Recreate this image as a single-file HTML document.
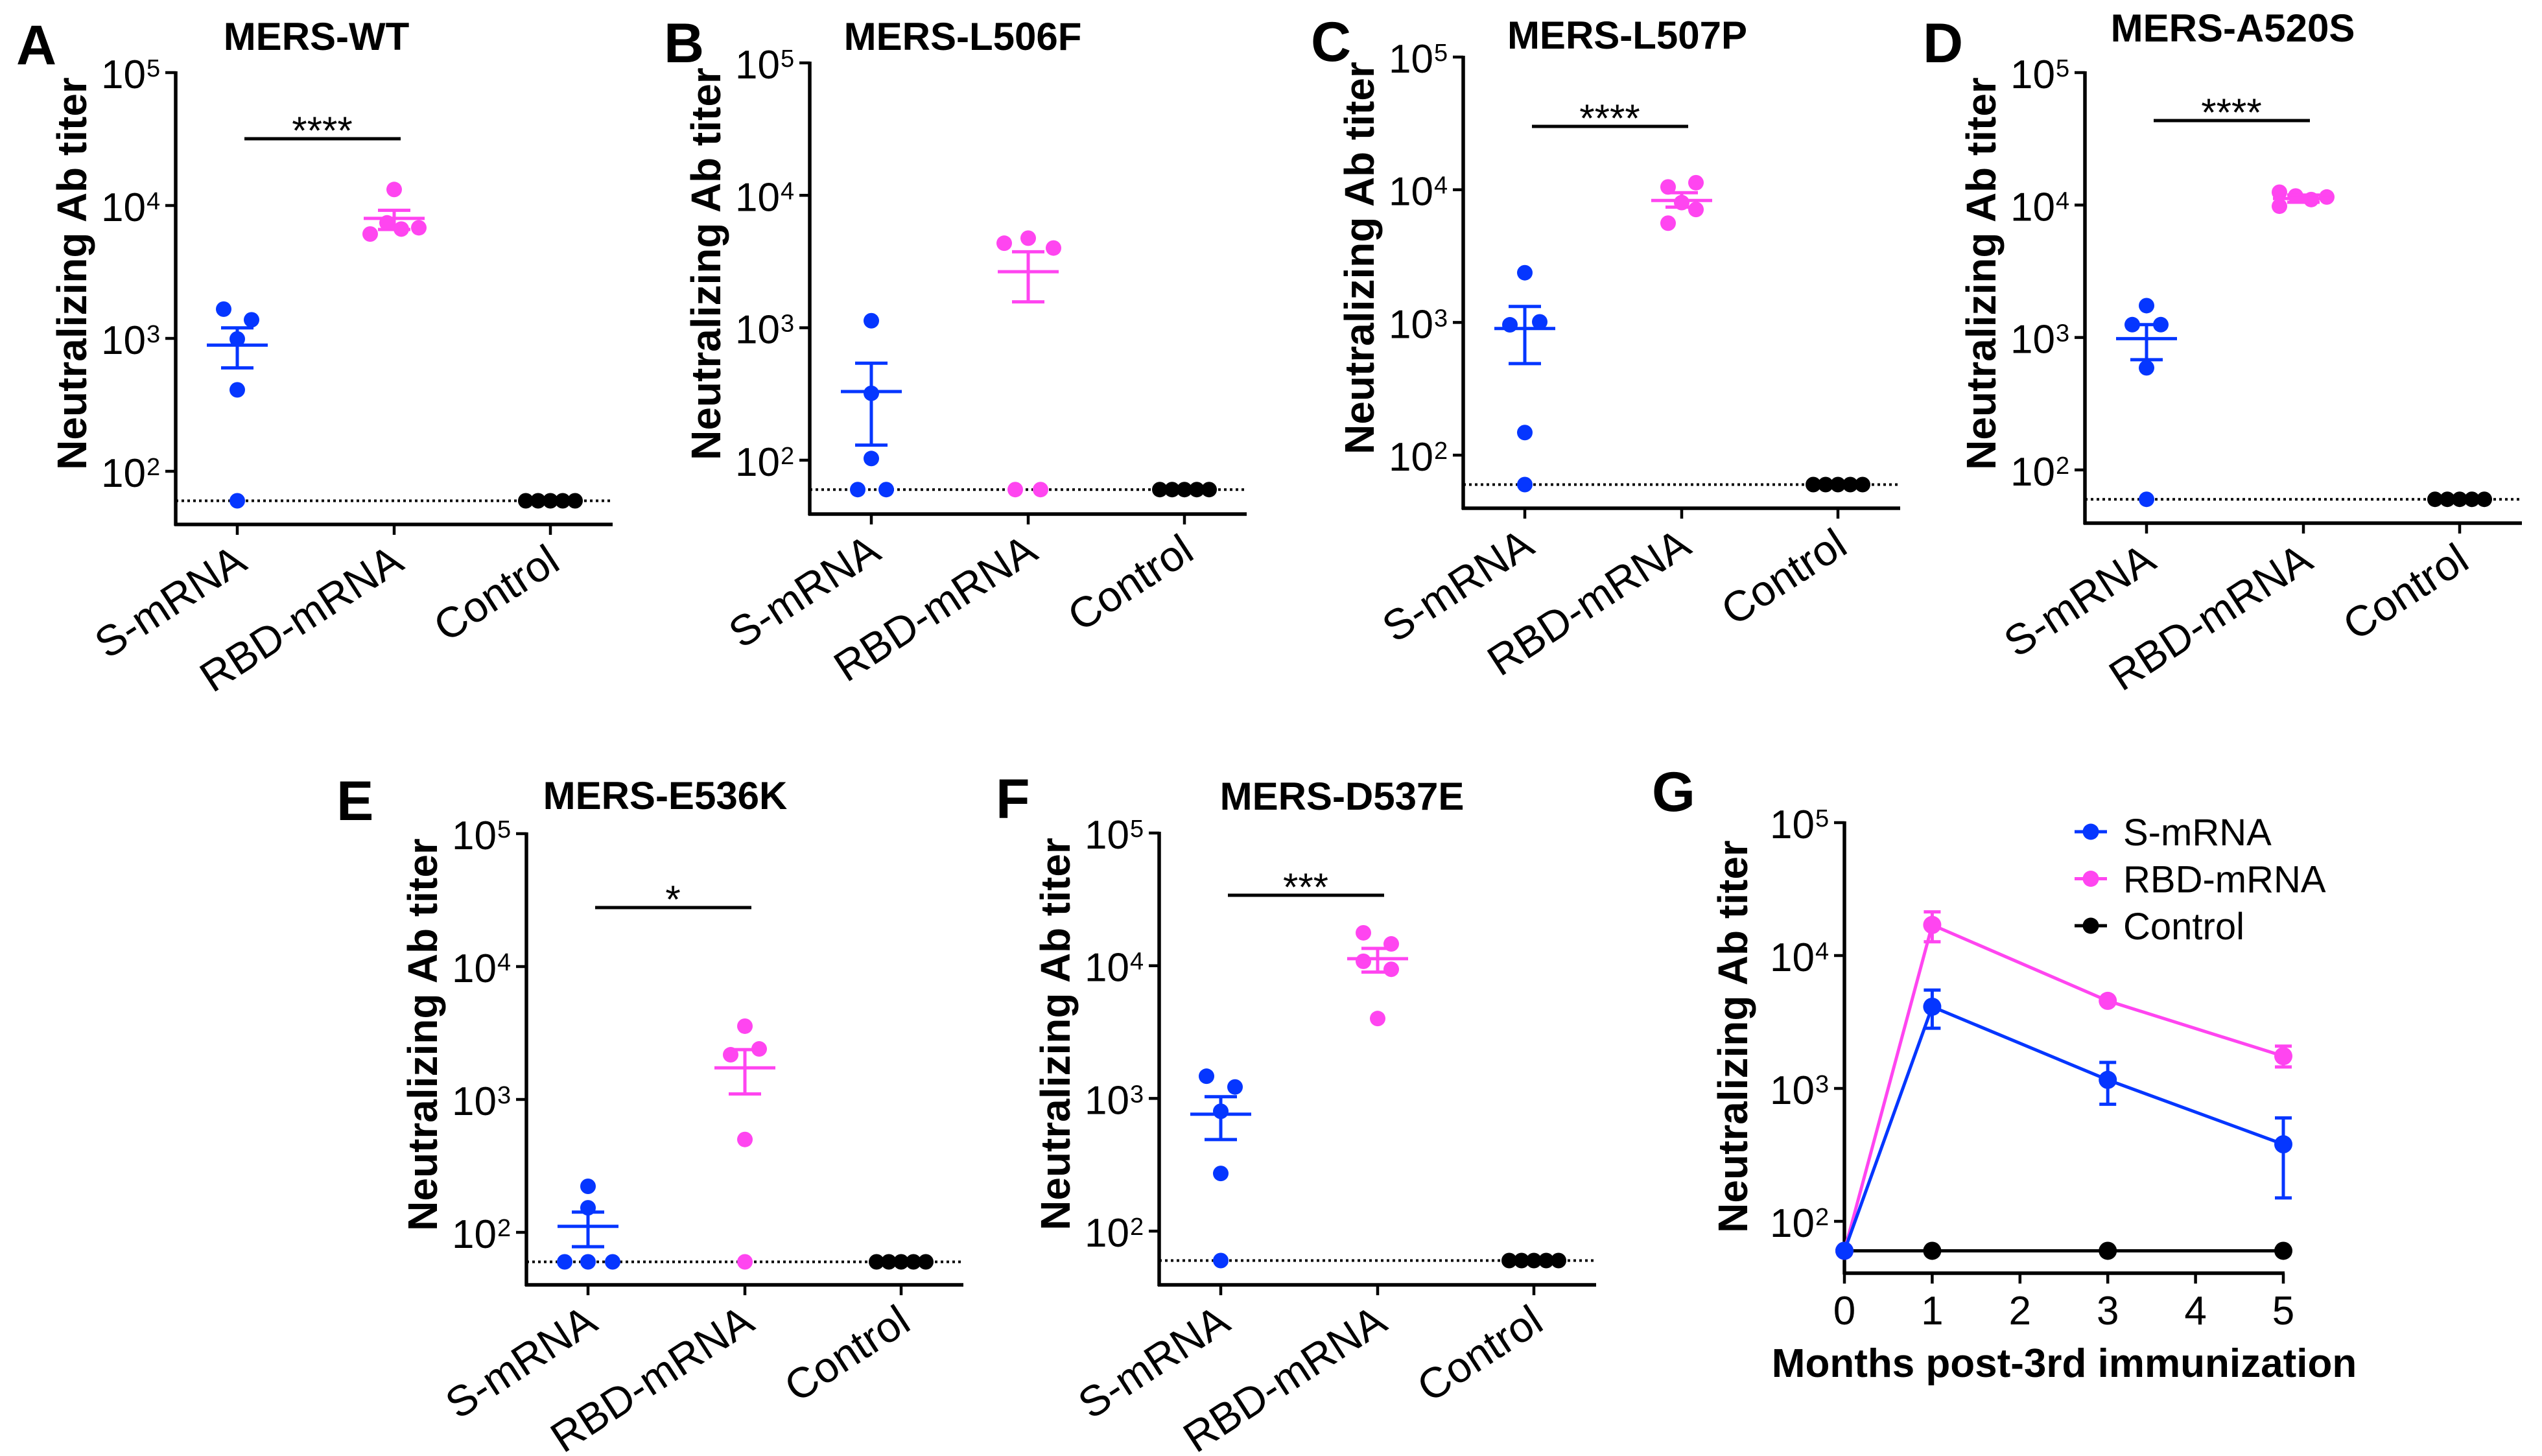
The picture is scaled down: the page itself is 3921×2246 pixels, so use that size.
<!DOCTYPE html>
<html><head><meta charset="utf-8"><title>MERS neutralizing titers</title>
<style>
html,body{margin:0;padding:0;background:#fff;}
svg{display:block;font-family:"Liberation Sans",Arial,sans-serif;}
</style></head>
<body>
<svg id="fig" width="3921" height="2246" viewBox="0 0 3921 2246" xmlns="http://www.w3.org/2000/svg"></svg>
<script>
// ---- data ----
const categories = ["S-mRNA","RBD-mRNA","Control"];
const yTickExps = [2,3,4,5];
const LOD = 60;
const controlVals = [60,60,60,60,60];
// Panel A MERS-WT
const A_s = [1660,1380,990,410,60];
const A_r = [13200,7400,6800,6650,6100];
const A_mean = [890,8000];
const A_lo = [600,6600];
const A_hi = [1200,9200];
// Panel B MERS-L506F
const B_s = [1130,320,103,60,60];
const B_r = [4750,4350,4000,60,60];
const B_mean = [330,2650];
const B_lo = [130,1570];
const B_hi = [540,3750];
// Panel C MERS-L507P
const C_s = [2370,1010,960,148,60];
const C_r = [11300,10500,8000,7100,5600];
const C_mean = [900,8300];
const C_lo = [490,7400];
const C_hi = [1320,9500];
// Panel D MERS-A520S
const D_s = [1740,1250,1250,590,60];
const D_r = [12500,11700,11000,11500,9800];
const D_mean = [980,11200];
const D_lo = [680,10500];
const D_hi = [1250,11900];
// Panel E MERS-E536K
const E_s = [222,153,60,60,60];
const E_r = [3560,2400,2170,500,60];
const E_mean = [111,1730];
const E_lo = [78,1100];
const E_hi = [142,2370];
// Panel F MERS-D537E
const F_s = [1470,1220,800,272,60];
const F_r = [17700,14600,10800,9400,4000];
const F_mean = [760,11300];
const F_lo = [490,8960];
const F_hi = [1030,13500];
// Panel G time course
const G_months = [0,1,3,5];
const G_xticks = [0,1,2,3,4,5];
const G_s = [60,4120,1160,380];
const G_s_lo = [60,2840,760,150];
const G_s_hi = [60,5500,1570,600];
const G_r = [60,17000,4560,1750];
const G_r_lo = [60,12700,4560,1450];
const G_r_hi = [60,21300,4560,2080];
const G_c = [60,60,60,60];
const seriesNames = ["S-mRNA","RBD-mRNA","Control"];

// ---- rendering ----
const NS="http://www.w3.org/2000/svg";
const svg=document.getElementById('fig');
const BLUE="#0536ff", PINK="#ff45f0", BLACK="#000";
function mk(tag,attrs,parent,txt){
  const e=document.createElementNS(NS,tag);
  for(const k in attrs) e.setAttribute(k,attrs[k]);
  if(txt!==undefined) e.textContent=txt;
  (parent||svg).appendChild(e);
  return e;
}
function tickLabel(g,x,y,exp){
  const t=mk('text',{x:x-46,y:y+24,'font-size':62,'text-anchor':'end'},g,'10');
  
  
  const s=mk('text',{x:x-45,y:y+6,'font-size':38,'text-anchor':'start'},g,String(exp));
  
  
}
function ylabel(g,x,y){
  const t=mk('text',{x:x,y:y,'font-size':64,'font-weight':'bold','text-anchor':'middle',transform:`rotate(-90 ${x} ${y})`},g,'Neutralizing Ab titer');
  
  
}
function letter(g,x,y,L){
  const t=mk('text',{x:x,y:y,'font-size':86,'font-weight':'bold'},g,L);
  
  
}

function scatterPanel(p){
  const g=mk('g',{});
  
  
  const yOf=v=>p.y5+(5-Math.log10(v))*p.dec;
  const cats=[p.ax+95,p.ax+337,p.ax+578];
  const right=cats[2]+96;
  letter(g,p.lx,p.ly,p.L);
  const ti=mk('text',{x:p.tx,y:p.ty,'font-size':60,'font-weight':'bold','text-anchor':'middle'},g,p.title);
  
  
  ylabel(g,p.ax-138,p.y5+310);
  const lod=mk('line',{x1:p.ax,x2:right,y1:yOf(LOD),y2:yOf(LOD),stroke:'#000','stroke-width':4,'stroke-dasharray':'4 5'},g);
  
  
  const ya=mk('line',{x1:p.ax,x2:p.ax,y1:p.y5-2,y2:p.yb+2,stroke:'#000','stroke-width':5.5},g);
  
  
  const xa=mk('line',{x1:p.ax-2,x2:right,y1:p.yb,y2:p.yb,stroke:'#000','stroke-width':5.5},g);
  
  
  yTickExps.forEach(e=>{
    const y=yOf(Math.pow(10,e));
    const tk=mk('line',{x1:p.ax-16,x2:p.ax,y1:y,y2:y,stroke:'#000','stroke-width':4.5},g);
    
    
    tickLabel(g,p.ax,y,e);
  });
  categories.forEach((c,i)=>{
    const x=cats[i];
    const tk=mk('line',{x1:x,x2:x,y1:p.yb,y2:p.yb+16,stroke:'#000','stroke-width':4.5},g);
    
    
    const bx=x+18, by=p.yb+67;
    const t=mk('text',{x:bx,y:by,'font-size':66,'text-anchor':'end',transform:`rotate(-33 ${bx} ${by})`},g,c);
    
    
  });
  const groups=[[p.s,p.js,BLUE,'s-mrna-point'],[p.r,p.jr,PINK,'rbd-mrna-point'],[controlVals,[-38,-19,0,19,38],BLACK,'control-point']];
  groups.forEach((gr,i)=>{
    gr[0].forEach((v,k)=>{
      const d=mk('circle',{cx:cats[i]+gr[1][k],cy:yOf(v),r:12,fill:gr[2]},g);
      
      
    });
  });
  [BLUE,PINK].forEach((col,i)=>{
    const x=cats[i];
    const m=mk('line',{x1:x-47,x2:x+47,y1:yOf(p.mean[i]),y2:yOf(p.mean[i]),stroke:col,'stroke-width':5},g);
    
    
    const v=mk('line',{x1:x,x2:x,y1:yOf(p.hi[i]),y2:yOf(p.lo[i]),stroke:col,'stroke-width':5},g);
    
    
    [p.hi[i],p.lo[i]].forEach(val=>{
      const cp=mk('line',{x1:x-25,x2:x+25,y1:yOf(val),y2:yOf(val),stroke:col,'stroke-width':5},g);
      
      
    });
  });
  if(p.sig){
    const b=mk('line',{x1:cats[0]+11,x2:cats[1]+10,y1:p.sigY,y2:p.sigY,stroke:'#000','stroke-width':5},g);
    
    
    const st=mk('text',{x:(cats[0]+cats[1])/2+10,y:p.sigY+8,'font-size':60,'text-anchor':'middle'},g,p.sig);
    
    
  }
}

scatterPanel({L:'A',lx:25,ly:99,title:'MERS-WT',tx:488,ty:77,ax:271,y5:112,dec:205,yb:809,s:A_s,r:A_r,mean:A_mean,lo:A_lo,hi:A_hi,js:[-21,22,0,0,0],jr:[0,-11,38,11,-37],sig:'****',sigY:214});
scatterPanel({L:'B',lx:1024,ly:96,title:'MERS-L506F',tx:1485,ty:77,ax:1249,y5:97,dec:204.3,yb:793,s:B_s,r:B_r,mean:B_mean,lo:B_lo,hi:B_hi,js:[0,0,0,-21,23],jr:[0,-37,39,-20,19]});
scatterPanel({L:'C',lx:2022,ly:94,title:'MERS-L507P',tx:2510,ty:75,ax:2257,y5:88,dec:204.7,yb:784,s:C_s,r:C_r,mean:C_mean,lo:C_lo,hi:C_hi,js:[0,23,-23,0,0],jr:[22,-21,0,22,-21],sig:'****',sigY:195});
scatterPanel({L:'D',lx:2966,ly:96,title:'MERS-A520S',tx:3444,ty:64,ax:3216,y5:112,dec:204.3,yb:807,s:D_s,r:D_r,mean:D_mean,lo:D_lo,hi:D_hi,js:[0,22,-22,0,0],jr:[-37,-12,12,36,-37],sig:'****',sigY:186});
scatterPanel({L:'E',lx:519,ly:1265,title:'MERS-E536K',tx:1026,ty:1248,ax:812,y5:1286,dec:205,yb:1982,s:E_s,r:E_r,mean:E_mean,lo:E_lo,hi:E_hi,js:[0,0,-36,0,38],jr:[0,22,-22,0,0],sig:'*',sigY:1400});
scatterPanel({L:'F',lx:1536,ly:1262,title:'MERS-D537E',tx:2070,ty:1249,ax:1788,y5:1285,dec:204.7,yb:1982,s:F_s,r:F_r,mean:F_mean,lo:F_lo,hi:F_hi,js:[-22,22,0,0,0],jr:[-22,21,-22,21,0],sig:'***',sigY:1381});

// Panel G
(function(){
  const g=mk('g',{});
  
  
  const ax=2845,y5=1269,dec=205,yb=1964,pxm=135.4;
  const yOf=v=>y5+(5-Math.log10(v))*dec;
  const xOf=m=>ax+m*pxm;
  letter(g,2548,1251,'G');
  ylabel(g,ax-150,y5+330);
  const ya=mk('line',{x1:ax,x2:ax,y1:y5-2,y2:yb+2,stroke:'#000','stroke-width':5.5},g);
  
  
  const xa=mk('line',{x1:ax-2,x2:xOf(5)+2,y1:yb,y2:yb,stroke:'#000','stroke-width':5.5},g);
  
  
  yTickExps.forEach(e=>{
    const y=yOf(Math.pow(10,e));
    const tk=mk('line',{x1:ax-16,x2:ax,y1:y,y2:y,stroke:'#000','stroke-width':4.5},g);
    
    
    tickLabel(g,ax,y,e);
  });
  G_xticks.forEach(m=>{
    const x=xOf(m);
    const tk=mk('line',{x1:x,x2:x,y1:yb,y2:yb+16,stroke:'#000','stroke-width':4.5},g);
    
    
    const t=mk('text',{x:x,y:2043,'font-size':62,'text-anchor':'middle'},g,String(m));
    
    
  });
  const xt=mk('text',{x:3184,y:2124,'font-size':62,'font-weight':'bold','text-anchor':'middle'},g,'Months post-3rd immunization');
  
  
  const series=[[G_c,null,null,BLACK,'control-series'],[G_r,G_r_lo,G_r_hi,PINK,'rbd-mrna-series'],[G_s,G_s_lo,G_s_hi,BLUE,'s-mrna-series']];
  series.forEach(sr=>{
    const pts=G_months.map((m,i)=>xOf(m)+','+yOf(sr[0][i])).join(' ');
    const pl=mk('polyline',{points:pts,fill:'none',stroke:sr[3],'stroke-width':5},g);
    
    
    G_months.forEach((m,i)=>{
      const x=xOf(m);
      if(sr[1] && sr[2][i]!==sr[1][i]){
        const v=mk('line',{x1:x,x2:x,y1:yOf(sr[2][i]),y2:yOf(sr[1][i]),stroke:sr[3],'stroke-width':5},g);
        
        
        [sr[1][i],sr[2][i]].forEach(val=>{
          const cp=mk('line',{x1:x-13,x2:x+13,y1:yOf(val),y2:yOf(val),stroke:sr[3],'stroke-width':5},g);
          
          
        });
      }
      const c=mk('circle',{cx:x,cy:yOf(sr[0][i]),r:14,fill:sr[3]},g);
      
      
    });
  });
  const cols=[BLUE,PINK,BLACK];
  seriesNames.forEach((n,i)=>{
    const y=1283+i*72.5;
    const lg=mk('g',{},g);
    
    
    mk('line',{x1:3200,x2:3250,y1:y,y2:y,stroke:cols[i],'stroke-width':5},lg);
    mk('circle',{cx:3225,cy:y,r:12.5,fill:cols[i]},lg);
    mk('text',{x:3275,y:y+21,'font-size':58},lg,n);
  });
})();
</script>
</body></html>
